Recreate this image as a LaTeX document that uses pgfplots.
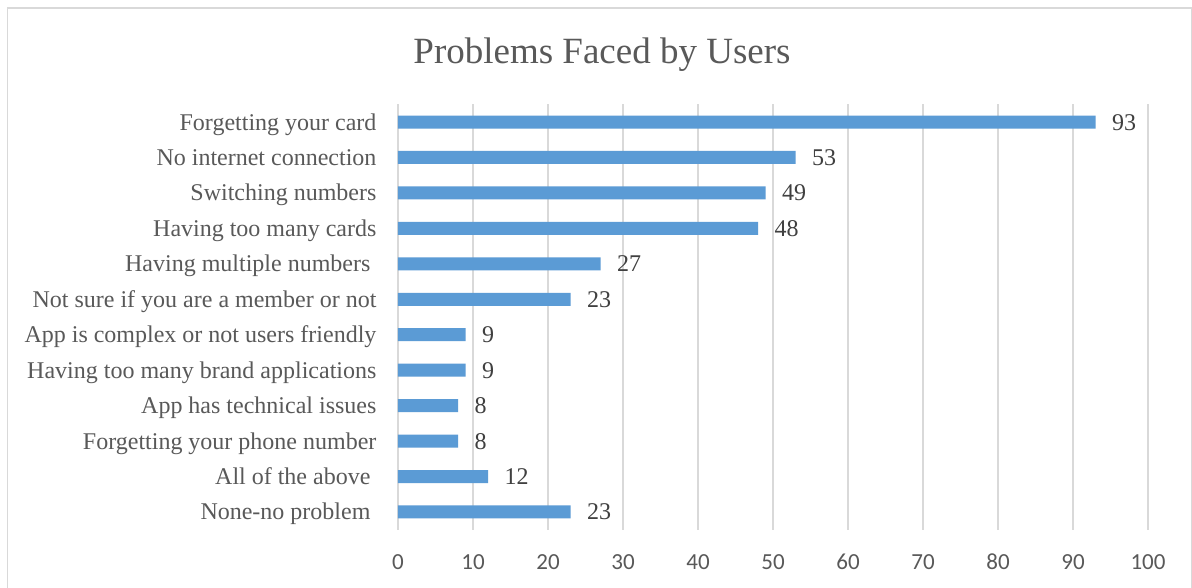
\documentclass[border=0pt]{standalone}
\usepackage{pgfplots}
\pgfplotsset{compat=1.18}
\usepackage{fontspec}
\setmainfont{Liberation Serif}
\newfontfamily\calibri{Carlito}
\definecolor{barblue}{HTML}{5B9BD5}
\definecolor{txtgray}{HTML}{595959}
\definecolor{valgray}{HTML}{404040}
\definecolor{gridgray}{HTML}{D9D9D9}
\newcommand{\tsp}{\rule{6pt}{0pt}}
\begin{document}
\begin{tikzpicture}
\useasboundingbox (0pt,0pt) rectangle (1192pt,588pt);
\fill[white] (0pt,0pt) rectangle (1192pt,588pt);
\draw[gridgray, line width=1.2pt] (7.5pt,-2pt) -- (7.5pt,580pt) -- (1191.4pt,580pt) -- (1191.4pt,-2pt);
\node[text=txtgray, font=\fontsize{37}{42}\selectfont] at (602pt,533pt) {Problems Faced by Users};
\begin{axis}[
  at={(398pt,58.3pt)}, anchor=south west,
  scale only axis, width=750pt, height=425.4pt,
  xmin=0, xmax=100, ymin=-0.5, ymax=11.5,
  xbar, bar width=13pt,
  axis line style={draw=none},
  xmajorgrids, grid style={gridgray, line width=1.2pt},
  xtick={0,10,...,100},
  ytick={0,...,11},
  yticklabels={None-no problem\tsp,All of the above\tsp,Forgetting your phone number,App has technical issues,Having too many brand applications,App is complex or not users friendly,Not sure if you are a member or not,Having multiple numbers\tsp,Having too many cards,Switching numbers,No internet connection,Forgetting your card},
  yticklabel style={font=\fontsize{24}{28}\selectfont, text=txtgray, anchor=base east, xshift=-18pt, yshift=-8pt},
  xticklabel style={font=\calibri\fontsize{23}{27}\selectfont, text=txtgray, yshift=-21pt},
  /pgf/number format/assume math mode=true,
  major tick length=0pt,
  nodes near coords,
  nodes near coords style={font=\fontsize{24}{28}\selectfont, text=valgray, anchor=base west, xshift=13pt, yshift=-8pt},
  clip=false,
]
\addplot[fill=barblue, draw=none] coordinates {
 (23,0) (12,1) (8,2) (8,3) (9,4) (9,5) (23,6) (27,7) (48,8) (49,9) (53,10) (93,11)
};
\end{axis}
\end{tikzpicture}
\end{document}
